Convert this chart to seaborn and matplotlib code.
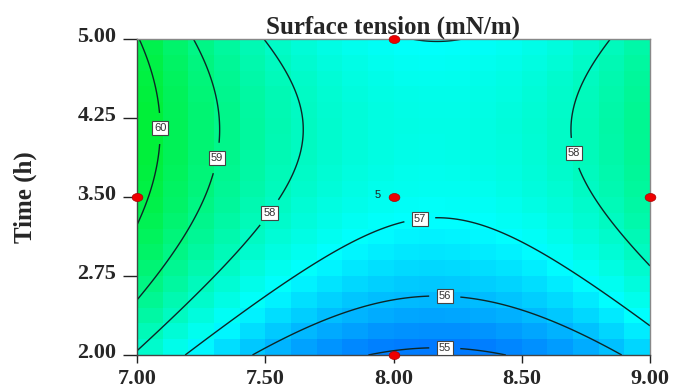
import numpy as np
import pandas as pd
import matplotlib
matplotlib.use("Agg")
import matplotlib.pyplot as plt
import seaborn as sns
from matplotlib.colors import LinearSegmentedColormap
from matplotlib.transforms import ScaledTranslation
from matplotlib.path import Path

# ---------------- data ----------------
title = "Surface tension (mN/m)"
y_label = "Time (h)"
x_ticks = [7.00, 7.50, 8.00, 8.50, 9.00]
y_ticks = [2.00, 2.75, 3.50, 4.25, 5.00]
contour_levels = [55, 56, 57, 58, 59, 60]

# fitted quadratic response surface
surf_intercept = 57.39     # value at the stationary point
surf_x0 = 8.17             # stationary point, x
surf_y0 = 4.14             # stationary point, y (time)
surf_xx = 2.24             # curvature along x
surf_yy = -0.557           # curvature along y

# design points
design_x = [8.0, 7.0, 8.0, 9.0, 8.0]
design_y = [5.0, 3.5, 3.5, 3.5, 2.0]
center_reps = "5"

# contour label positions
label_pos = [(7.07, 4.15), (7.31, 3.87), (7.49, 3.40), (8.10, 3.33),
             (8.20, 2.57), (8.20, 2.08), (8.71, 3.92)]


def response(x, y):
    return (surf_intercept + surf_xx * (x - surf_x0) ** 2
            + surf_yy * (y - surf_y0) ** 2)


# ---------------- style ----------------
sns.set_style("ticks")
plt.rcParams["font.family"] = ["Liberation Serif", "DejaVu Serif"]

fig = plt.figure(figsize=(6.73, 3.92), dpi=100)
ax = fig.add_axes([137 / 673, 37 / 392, 513 / 673, 316 / 392])

cmap = LinearSegmentedColormap.from_list(
    "de", [(0.0, (0.0, 0.0, 1.0)), (0.5, (0.0, 1.0, 1.0)),
           (1.0, (0.0, 0.93, 0.08))])
vmin, vmax = 53.2, 60.8

# coarse cells for the colour map
nx, ny = 20, 20
xe = np.linspace(x_ticks[0], x_ticks[-1], nx + 1)
ye = np.linspace(y_ticks[0], y_ticks[-1], ny + 1)
xc = 0.5 * (xe[:-1] + xe[1:])
yc = 0.5 * (ye[:-1] + ye[1:])
XC, YC = np.meshgrid(xc, yc)
ax.pcolormesh(xe, ye, response(XC, YC), cmap=cmap, vmin=vmin, vmax=vmax,
              shading="flat", rasterized=True)

# fine grid for contour lines
xf = np.linspace(x_ticks[0], x_ticks[-1], 300)
yf = np.linspace(y_ticks[0], y_ticks[-1], 300)
XF, YF = np.meshgrid(xf, yf)
cs = ax.contour(XF, YF, response(XF, YF), levels=contour_levels,
                colors="#0d2626", linewidths=1.0)
labels = ax.clabel(cs, fmt="%d", manual=label_pos, inline=True,
                   inline_spacing=10, fontsize=8)
for t in labels:
    t.set_rotation(0)
    t.set_family(["Liberation Sans", "DejaVu Sans"])
    t.set_color("#333333")
    t.set_bbox(dict(boxstyle="square,pad=0.18", fc="white", ec="#444444",
                    lw=0.8))

# design points (slightly wide elliptical dots)
theta = np.linspace(0, 2 * np.pi, 40)
ellipse = Path(np.column_stack([1.35 * np.cos(theta), np.sin(theta)]),
               closed=True)
pts = pd.DataFrame({"x": design_x, "y": design_y})
sns.scatterplot(data=pts, x="x", y="y", ax=ax, color="#ee0000", s=60,
                marker=ellipse, edgecolor="#aa0000", linewidth=0.5,
                zorder=5, clip_on=False, legend=False)
ax.text(design_x[2] - 0.05, design_y[2] + 0.02, center_reps, ha="right",
        va="center", fontsize=8, family=["Liberation Sans", "DejaVu Sans"],
        color="#222222")

ax.set_xlim(x_ticks[0], x_ticks[-1])
ax.set_ylim(y_ticks[0], y_ticks[-1])
ax.set_xticks(x_ticks)
ax.set_yticks(y_ticks)
ax.set_xticklabels([f"{v:.2f}" for v in x_ticks], fontsize=16,
                   fontweight="bold")
ax.set_yticklabels([f"{v:.2f}" for v in y_ticks], fontsize=16,
                   fontweight="bold")
ax.tick_params(axis="y", direction="out", length=10, width=1.0,
               color="#222222", pad=5)
ax.tick_params(axis="x", direction="out", length=6, width=1.0,
               color="#222222", pad=4)
for lab in ax.get_yticklabels():
    lab.set_verticalalignment("baseline")
    lab.set_transform(lab.get_transform()
                      + ScaledTranslation(0, -3 / 100, fig.dpi_scale_trans))

ax.set_xlabel("")
ax.set_ylabel(y_label, fontsize=18, fontweight="bold", labelpad=29)
ax.set_title(title, fontsize=18, fontweight="bold", pad=3)

for side in ["top", "right"]:
    ax.spines[side].set_color("#888888")
    ax.spines[side].set_linewidth(1.0)
for side in ["left", "bottom"]:
    ax.spines[side].set_color("#444444")
    ax.spines[side].set_linewidth(1.0)

fig.savefig("out.png", dpi=100)
